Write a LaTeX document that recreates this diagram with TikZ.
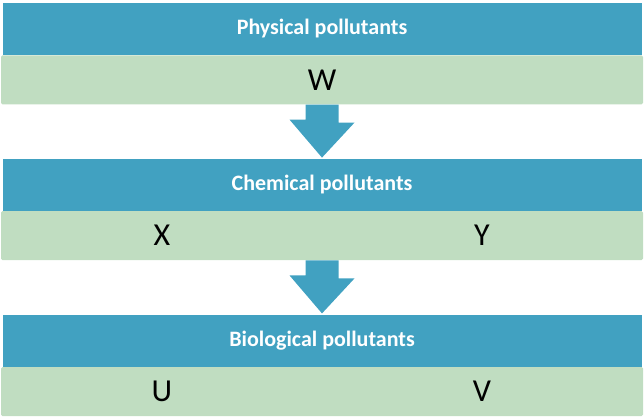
\documentclass[tikz,border=0pt]{standalone}
\usepackage{fontspec}
\setmainfont{Carlito}
\usepackage{xcolor}
\usetikzlibrary{positioning}
\definecolor{headblue}{HTML}{41A1C1}
\definecolor{bodygreen}{HTML}{C0DDC1}

\begin{document}
\begin{tikzpicture}[
    x=1pt, y=1pt,
    head/.style={fill=headblue, text=white, font=\fontsize{22}{24}\selectfont\bfseries,
      minimum width=639pt, minimum height=52pt, inner sep=0pt},
    body/.style={fill=bodygreen, rounded corners=1.5pt,
      minimum width=642pt, minimum height=49pt, inner sep=0pt},
    item/.style={font=\fontsize{32}{34}\selectfont, inner sep=0pt},
    flow/.style={fill=headblue}
  ]
  \useasboundingbox (0,0) rectangle (644,-416);
  \node[head] (B1) at (322,-29) {Physical pollutants};
  \node[body, below=0pt of B1] (G1) {};
  \node[head, below=54pt of G1] (B2) {Chemical pollutants};
  \node[body, below=0pt of B2] (G2) {};
  \node[head, below=54pt of G2] (B3) {Biological pollutants};
  \node[body, below=0pt of B3] (G3) {};

  \node[item] (W) at (G1) {W};
  \node[item] (X) at ([xshift=-160pt]G2.center) {X};
  \node[item] (Y) at ([xshift=160pt]G2.center) {Y};
  \node[item] (U) at ([xshift=-160pt]G3.center) {U};
  \node[item] (V) at ([xshift=160pt]G3.center) {V};

  % block arrows between the groups
  \fill[flow] ([xshift=-16.5pt]G1.south) -- ++(0,-15) -- ++(-16,0)
    -- ([yshift=1pt]B2.north) -- ++(32.5,35) -- ++(-16,0)
    -- ([xshift=16.5pt]G1.south) -- cycle;
  \fill[flow] ([xshift=-16.5pt]G2.south) -- ++(0,-15) -- ++(-16,0)
    -- ([yshift=1pt]B3.north) -- ++(32.5,35) -- ++(-16,0)
    -- ([xshift=16.5pt]G2.south) -- cycle;
\end{tikzpicture}
\end{document}
